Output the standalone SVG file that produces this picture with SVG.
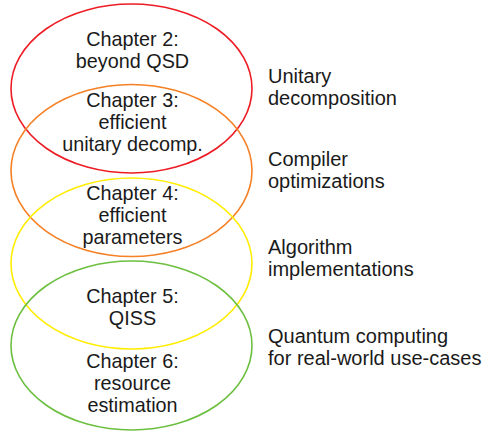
<svg xmlns="http://www.w3.org/2000/svg" width="483" height="432" viewBox="0 0 483 432">
<style>
.e{fill:none;stroke-width:1.6}
.t{font-family:"Liberation Sans",Arial,sans-serif;font-size:19.8px;fill:#1a1a1a}
.r{font-size:20px}
.c{text-anchor:middle}
</style>
<rect width="483" height="432" fill="#fff"/>
<g id="ch2"><ellipse class="e" cx="131.5" cy="88.5" rx="120.5" ry="84.5" stroke="#ed1c24"/></g>
<g id="ch3"><ellipse class="e" cx="131.5" cy="170.5" rx="120.5" ry="86" stroke="#f58025"/></g>
<g id="ch4"><ellipse class="e" cx="131.5" cy="263.5" rx="120.5" ry="85.5" stroke="#ffed00"/></g>
<g id="ch5"><ellipse class="e" cx="131.5" cy="345.5" rx="120.5" ry="84.5" stroke="#6cbf3f"/></g>
<g id="labels">
<text class="t c" x="132.5" y="46">Chapter 2:</text>
<text class="t c" x="132.5" y="68">beyond QSD</text>
<text class="t c" x="132.5" y="107">Chapter 3:</text>
<text class="t c" x="132.5" y="129">efficient</text>
<text class="t c" x="132.5" y="151">unitary decomp.</text>
<text class="t c" x="132.5" y="200">Chapter 4:</text>
<text class="t c" x="132.5" y="222">efficient</text>
<text class="t c" x="132.5" y="244">parameters</text>
<text class="t c" x="132.5" y="303">Chapter 5:</text>
<text class="t c" x="132.5" y="325">QISS</text>
<text class="t c" x="132.5" y="368">Chapter 6:</text>
<text class="t c" x="132.5" y="390">resource</text>
<text class="t c" x="132.5" y="412">estimation</text>
<text class="t r" x="268" y="83">Unitary</text>
<text class="t r" x="268" y="105">decomposition</text>
<text class="t r" x="268" y="166">Compiler</text>
<text class="t r" x="268" y="188">optimizations</text>
<text class="t r" x="268" y="254">Algorithm</text>
<text class="t r" x="268" y="276">implementations</text>
<text class="t r" x="268" y="343">Quantum computing</text>
<text class="t r" x="268" y="365">for real-world use-cases</text>
</g>
<g id="connectors"></g>
</svg>
